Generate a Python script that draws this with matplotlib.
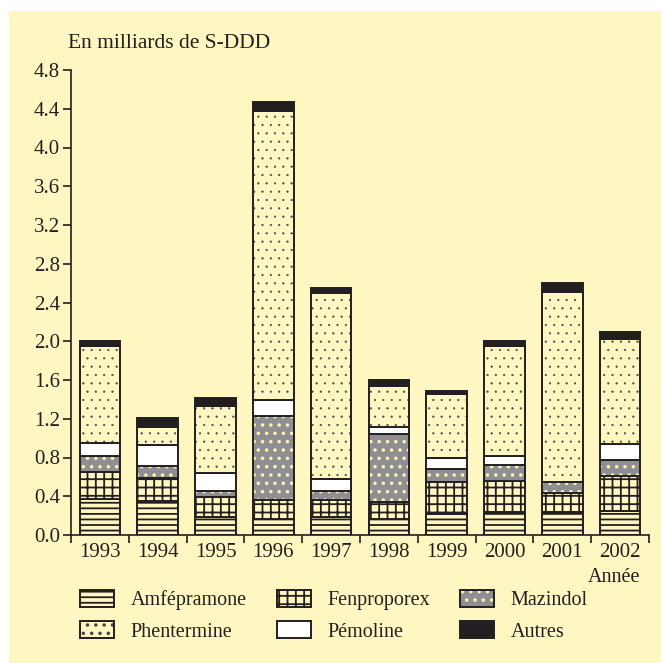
import matplotlib.pyplot as plt
import numpy as np
from matplotlib.patches import Rectangle

plt.rcParams['font.family'] = ['Liberation Serif', 'DejaVu Serif']
plt.rcParams['hatch.linewidth'] = 1.3

years = ['1993', '1994', '1995', '1996', '1997', '1998', '1999', '2000', '2001', '2002']
amfepramone = [0.37, 0.35, 0.19, 0.17, 0.19, 0.17, 0.22, 0.24, 0.24, 0.25]
fenproporex = [0.28, 0.24, 0.20, 0.19, 0.17, 0.17, 0.33, 0.32, 0.19, 0.36]
mazindol = [0.17, 0.12, 0.06, 0.87, 0.09, 0.70, 0.13, 0.16, 0.115, 0.16]
phentermine = [1.00, 0.19, 0.70, 2.99, 1.92, 0.43, 0.66, 1.14, 1.96, 1.08]
pemoline = [0.13, 0.22, 0.185, 0.16, 0.13, 0.07, 0.115, 0.095, 0.005, 0.17]
autres = [0.05, 0.09, 0.075, 0.09, 0.05, 0.055, 0.03, 0.05, 0.095, 0.08]

BG = '#FFF7C1'
DARK = '#231F20'

fig = plt.figure(figsize=(6.61, 6.63), dpi=100)
fig.patch.set_facecolor('white')
fig.patches.append(Rectangle((9 / 661, 0), 1, (663 - 11) / 663, transform=fig.transFigure,
                             facecolor=BG, edgecolor='none', zorder=-10))

ax = fig.add_axes([71 / 661, (663 - 535) / 663, 578 / 661, 465 / 663])
ax.set_facecolor('none')

x = np.arange(len(years))
w = 0.7
lw = 1.4
bottom = np.zeros(len(years))

h_amf = ax.bar(x, amfepramone, w, bottom=bottom, color=BG, edgecolor=DARK, hatch='---', linewidth=lw)
bottom += amfepramone
h_fen = ax.bar(x, fenproporex, w, bottom=bottom, color=BG, edgecolor=DARK, hatch='++', linewidth=lw)
bottom += fenproporex
# mazindol: light dots on grey, drawn in two passes so the border stays dark
h_maz_a = ax.bar(x, mazindol, w, bottom=bottom, color='#8E8E93', edgecolor='#FFF3B0', hatch='..', linewidth=0)
h_maz_b = ax.bar(x, mazindol, w, bottom=bottom, color='none', edgecolor=DARK, linewidth=lw)
bottom += mazindol
h_pem = ax.bar(x, pemoline, w, bottom=bottom, color='white', edgecolor=DARK, linewidth=lw)
bottom += pemoline
# phentermine: small dots, thinner hatch stroke
plt.rcParams['hatch.linewidth'] = 0.35
h_phe_a = ax.bar(x, phentermine, w, bottom=bottom, color=BG, edgecolor='#4A4444', hatch='..', linewidth=0)
h_phe_b = ax.bar(x, phentermine, w, bottom=bottom, color='none', edgecolor=DARK, linewidth=lw)
plt.rcParams['hatch.linewidth'] = 1.3
bottom += phentermine
h_aut = ax.bar(x, autres, w, bottom=bottom, color=DARK, edgecolor=DARK, linewidth=lw)

ax.set_xlim(-0.5, len(years) - 0.5)
ax.set_ylim(0, 4.8)
ax.set_yticks(np.arange(0, 4.81, 0.4))
ax.set_yticklabels(['%.1f' % v for v in np.arange(0, 4.81, 0.4)])
ax.set_xticks(x)
ax.set_xticklabels(years)
ax.set_xticks(np.arange(-0.5, len(years) + 0.5, 1), minor=True)
ax.tick_params(axis='x', which='major', length=0, labelsize=15, colors=DARK, pad=6)
ax.tick_params(axis='x', which='minor', length=6, width=1.2, color=DARK)
ax.tick_params(axis='y', length=6, width=1.2, labelsize=15, colors=DARK, pad=2)
for s in ['top', 'right']:
    ax.spines[s].set_visible(False)
for s in ['left', 'bottom']:
    ax.spines[s].set_linewidth(1.2)
    ax.spines[s].set_color(DARK)

fig.text(68 / 661, 1 - 44 / 663, 'En milliards de S-DDD', fontsize=15.5, color=DARK, va='center', ha='left')
fig.text(640 / 661, 1 - 577 / 663, 'Année', fontsize=14.5, color=DARK, va='center', ha='right')

handles = [h_amf[0], (h_phe_a[0], h_phe_b[0]), h_fen[0], h_pem[0], (h_maz_a[0], h_maz_b[0]), h_aut[0]]
labels = ['Amfépramone', 'Phentermine', 'Fenproporex', 'Pémoline', 'Mazindol', 'Autres']
fig.legend(handles, labels, ncol=3, frameon=False, loc='upper left',
           bbox_to_anchor=(80 / 661, 1 - 590 / 663), borderpad=0, borderaxespad=0,
           handlelength=1.7, handleheight=0.9, handletextpad=0.8, columnspacing=1.5,
           labelspacing=0.55, prop={'size': 14.5})
for t in fig.legends[0].get_texts():
    t.set_color(DARK)

fig.savefig('out.png', dpi=100, facecolor='white')
